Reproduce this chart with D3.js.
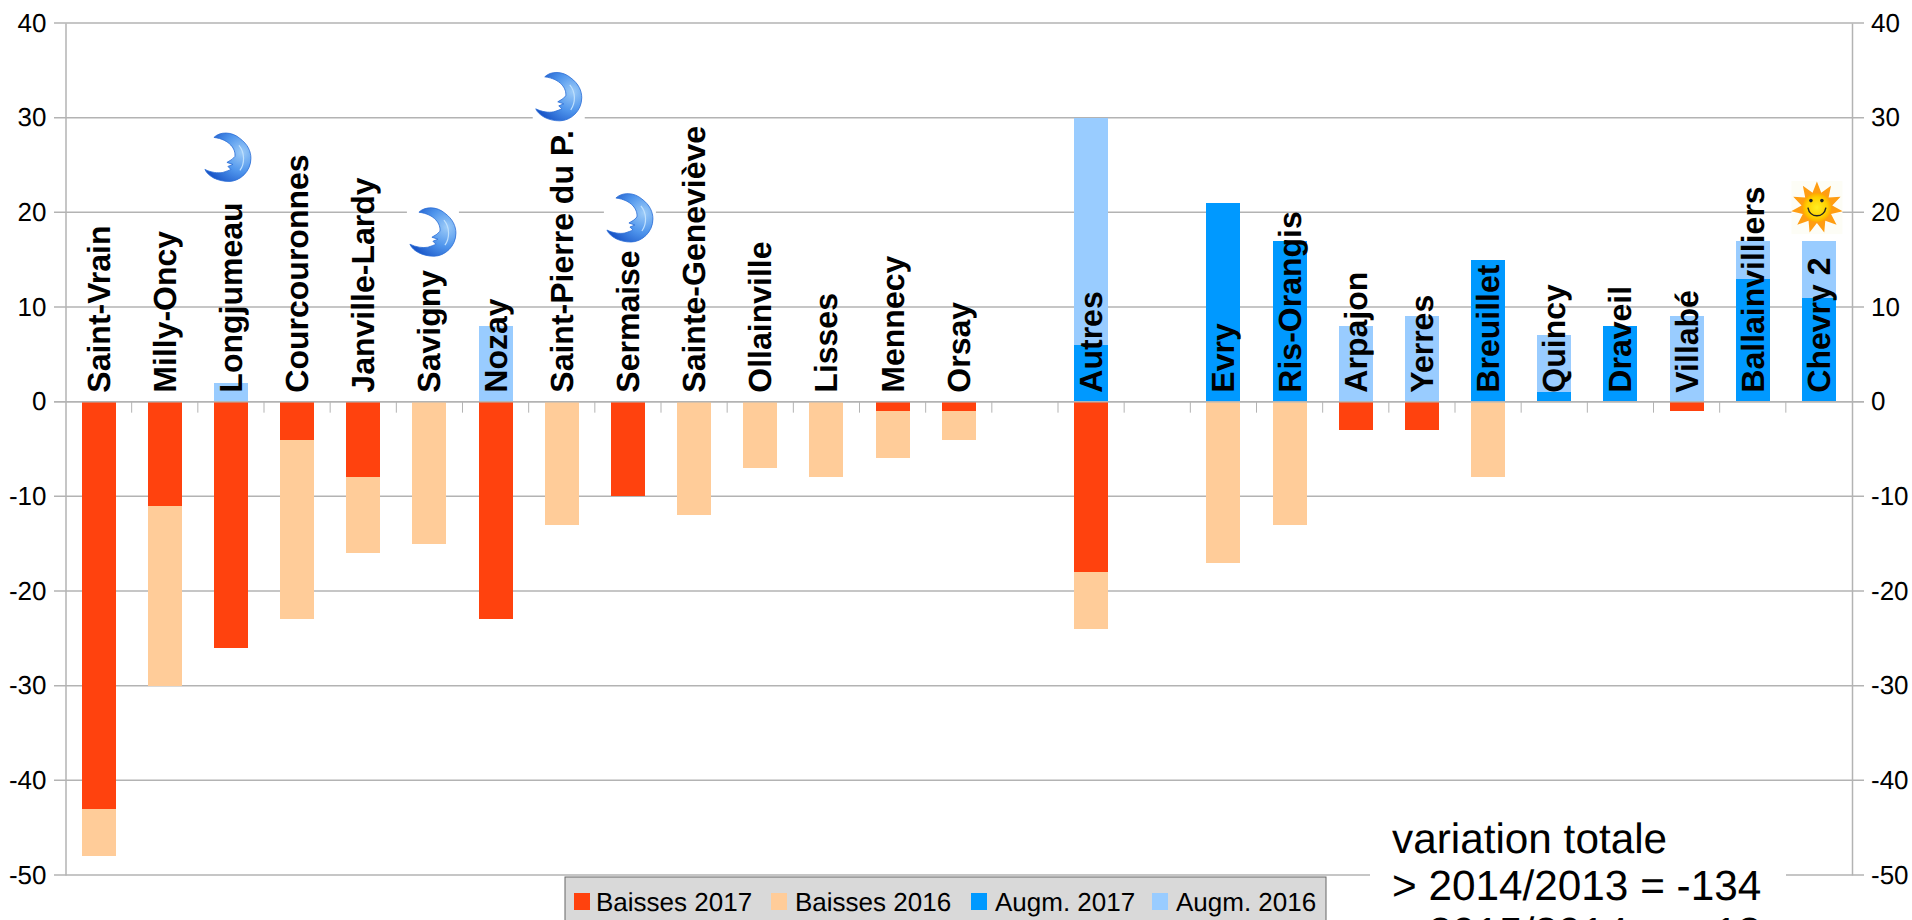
<!DOCTYPE html>
<html>
<head>
<meta charset="utf-8">
<title>Variation</title>
<style>
    html, body { margin: 0; padding: 0; background: #fff; overflow: hidden; }
    svg { display: block; font-family: "Liberation Sans", Arial, sans-serif; text-rendering: geometricPrecision; }
</style>
</head>
<body>
<svg id="chart" width="1912" height="920"></svg>
<script src="https://d3js.org/d3.v7.min.js"></script>
<script>
    // one entry per slot, "" = empty slot on the axis
    const communes = ["Saint-Vrain", "Milly-Oncy", "Longjumeau", "Courcouronnes", "Janville-Lardy", "Savigny", "Nozay",
        "Saint-Pierre du P.", "Sermaise", "Sainte-Geneviève", "Ollainville", "Lisses", "Mennecy", "Orsay", "",
        "Autres", " ", "Evry", "Ris-Orangis", "Arpajon", "Yerres", "Breuillet", "Quincy", "Draveil", "Villabé",
        "Ballainvilliers", "Chevry 2"];
    const baisses2017 = [-43, -11, -26, -4, -8, 0, -23, 0, -10, 0, 0, 0, -1, -1, 0, -18, 0, 0, 0, -3, -3, 0, 0, 0, -1, 0, 0];
    const baisses2016 = [-5, -19, 0, -19, -8, -15, 0, -13, 0, -12, -7, -8, -5, -3, 0, -6, 0, -17, -13, 0, 0, -8, 0, 0, 0, 0, 0];
    const augm2017 = [0, 0, 0, 0, 0, 0, 0, 0, 0, 0, 0, 0, 0, 0, 0, 6, 0, 21, 17, 0, 0, 15, 1, 8, 0, 13, 11];
    const augm2016 = [0, 0, 2, 0, 0, 0, 8, 0, 0, 0, 0, 0, 0, 0, 0, 24, 0, 0, 0, 8, 9, 0, 6, 0, 9, 4, 6];
    const yTicks = [40, 30, 20, 10, 0, -10, -20, -30, -40, -50];
    const legendLabels = ["Baisses 2017", "Baisses 2016", "Augm. 2017", "Augm. 2016"];
    const legendColors = ["#ff420e", "#ffcc99", "#0099ff", "#99ccff"];
    // third line is cut by the bottom of the picture, as in the original
    const noteLines = ["variation totale", "> 2014/2013 = -134", "> 2015/2014 =\u00a0\u00a0\u00a0-13"];
    // icons sit at the top of the label, value = axis value of icon centre
    const moonCommunes = ["Longjumeau", "Savigny", "Saint-Pierre du P.", "Sermaise"];
    const moonValues = [25.8, 17.9, 32.2, 19.4];
    const moonShift = [-3, 3.5, -3, 2];

    const svg = d3.select("#chart");
    const x = d3.scaleBand().domain(communes).range([65.5, 1852]);
    const y = d3.scaleLinear().domain([40, -50]).range([23, 875]);
    const barWidth = 34;

    // grid
    svg.append("g").selectAll("line").data(yTicks).join("line")
        .attr("x1", 54).attr("x2", 1864)
        .attr("y1", d => y(d)).attr("y2", d => y(d))
        .attr("stroke", "#b3b3b3").attr("stroke-width", 1.5);

    // axes
    const axisLeft = d3.axisLeft(y).tickValues(yTicks).tickSize(0).tickPadding(19).tickFormat(d => String(d));
    const axisRight = d3.axisRight(y).tickValues(yTicks).tickSize(0).tickPadding(19).tickFormat(d => String(d));
    [[axisLeft, 65.5], [axisRight, 1852]].forEach(function(a) {
        const g = svg.append("g").attr("transform", "translate(" + a[1] + ",0)").call(a[0]);
        g.select(".domain").attr("stroke", "#b3b3b3").attr("stroke-width", 1.5);
        g.selectAll("text").attr("font-size", 26).attr("fill", "#000").attr("font-family", "Liberation Sans");
    });

    // small ticks under the zero line, between the slots
    svg.append("g").selectAll("line").data(communes.slice(1)).join("line")
        .attr("x1", d => x(d)).attr("x2", d => x(d))
        .attr("y1", y(0)).attr("y2", y(0) + 11)
        .attr("stroke", "#b3b3b3").attr("stroke-width", 1);

    function drawStack(first, second, firstColor, secondColor) {
        const bars = svg.append("g").attr("shape-rendering", "crispEdges");
        communes.forEach(function(c, i) {
            const a = first[i], b = second[i];
            if (a !== 0) {
                bars.append("rect")
                    .attr("x", x(c) + x.bandwidth() / 2 - barWidth / 2).attr("width", barWidth)
                    .attr("y", Math.min(y(0), y(a))).attr("height", Math.abs(y(a) - y(0)))
                    .attr("fill", firstColor);
            }
            if (b !== 0) {
                bars.append("rect")
                    .attr("x", x(c) + x.bandwidth() / 2 - barWidth / 2).attr("width", barWidth)
                    .attr("y", Math.min(y(a), y(a + b))).attr("height", Math.abs(y(a + b) - y(a)))
                    .attr("fill", secondColor);
            }
        });
    }
    drawStack(baisses2017, baisses2016, legendColors[0], legendColors[1]);
    drawStack(augm2017, augm2016, legendColors[2], legendColors[3]);

    // redraw the zero line over the bars base
    svg.append("line").attr("x1", 54).attr("x2", 1864).attr("y1", y(0)).attr("y2", y(0))
        .attr("stroke", "#b3b3b3").attr("stroke-width", 1.5);

    // commune names
    svg.append("g").selectAll("text").data(communes.filter(d => d.trim() !== "")).join("text")
        .attr("transform", d => "translate(" + (x(d) + x.bandwidth() / 2 + 11) + "," + (y(0) - 9) + ") rotate(-90)")
        .attr("font-size", 32).attr("font-weight", "bold").attr("fill", "#000")
        .text(d => d);

    // moon icon, drawn around 0,0
    const defs = svg.append("defs");
    const moonGrad = defs.append("radialGradient").attr("id", "moonGrad")
        .attr("cx", "80%").attr("cy", "40%").attr("r", "80%");
    moonGrad.append("stop").attr("offset", "0%").attr("stop-color", "#9ccbf8");
    moonGrad.append("stop").attr("offset", "50%").attr("stop-color", "#4f95ec");
    moonGrad.append("stop").attr("offset", "100%").attr("stop-color", "#1a56c8");
    const moonPath = "M-14,-20 C-8,-26 4,-26 12,-19 C20,-13 23,-6 23,1 C23,14 12,24 1,24 C-10,24 -20,19 -23,12 " +
        "C-17,15 -10,16 -5,15 C-2,14 1,13 3,12 L0,9 L5,7 L-1,5 L4,2 L7,-1 C8,-8 2,-18 -14,-20 Z";
    svg.append("g").selectAll("g").data(moonCommunes).join("g")
        .attr("transform", (d, i) => "translate(" + (x(d) + x.bandwidth() / 2 + moonShift[i]) + "," + y(moonValues[i]) + ")")
        .each(function() {
            const g = d3.select(this);
            g.append("rect").attr("x", -26).attr("y", -26).attr("width", 52).attr("height", 52).attr("fill", "#fff");
            g.append("path").attr("d", moonPath).attr("fill", "url(#moonGrad)").attr("stroke", "#2a6cd6").attr("stroke-width", 0.8);
            g.append("path").attr("d", "M11,-12 C17,-5 17,6 12,13").attr("fill", "none").attr("stroke", "#bfe0fd").attr("stroke-width", 1.2);
        });

    // sun icon above Chevry 2
    const sunGrad = defs.append("radialGradient").attr("id", "sunGrad");
    sunGrad.append("stop").attr("offset", "0%").attr("stop-color", "#ffee22");
    sunGrad.append("stop").attr("offset", "70%").attr("stop-color", "#ffd000");
    sunGrad.append("stop").attr("offset", "100%").attr("stop-color", "#ffa800");
    const sun = svg.append("g")
        .attr("transform", "translate(" + (x("Chevry 2") + x.bandwidth() / 2 - 2) + "," + y(20.5) + ")");
    sun.append("rect").attr("x", -25.5).attr("y", -26.5).attr("width", 51).attr("height", 53).attr("fill", "#fdfdf6");
    const sunPoints = d3.range(22).map(function(i) {
        const r = i % 2 === 0 ? 26 : 15.5;
        const t = i * Math.PI / 11;
        return [r * Math.sin(t), -r * Math.cos(t)];
    });
    sun.append("path").attr("d", d3.line()(sunPoints) + "Z").attr("fill", "#ff9d12");
    sun.append("circle").attr("r", 14.5).attr("fill", "url(#sunGrad)");
    sun.append("circle").attr("cx", -6).attr("cy", -7).attr("r", 1.8).attr("fill", "#222");
    sun.append("circle").attr("cx", 5).attr("cy", -7).attr("r", 1.8).attr("fill", "#222");
    sun.append("path").attr("d", "M-9,0 C-7,11 7,11 9,0").attr("fill", "none").attr("stroke", "#222").attr("stroke-width", 1.5);

    // legend box
    const legend = svg.append("g");
    legend.append("rect").attr("x", 565).attr("y", 877).attr("width", 761).attr("height", 60)
        .attr("fill", "#d9d9d9").attr("stroke", "#666").attr("stroke-width", 1);
    const legendX = [574, 771, 971, 1152];
    const legendTextX = [596, 795, 995, 1176];
    legendLabels.forEach(function(d, i) {
        legend.append("rect").attr("x", legendX[i]).attr("y", 893).attr("width", 16).attr("height", 17).attr("fill", legendColors[i]);
        legend.append("text").attr("x", legendTextX[i]).attr("y", 911).attr("font-size", 26).attr("fill", "#000").text(d);
    });

    // note, white box hides the grid line behind it
    svg.append("rect").attr("x", 1370).attr("y", 820).attr("width", 416).attr("height", 100).attr("fill", "#fff");
    svg.append("g").selectAll("text").data(noteLines).join("text")
        .attr("x", 1392).attr("y", (d, i) => 853 + i * 47)
        .attr("font-size", 42.3).attr("fill", "#000").text(d => d);
</script>
</body>
</html>
